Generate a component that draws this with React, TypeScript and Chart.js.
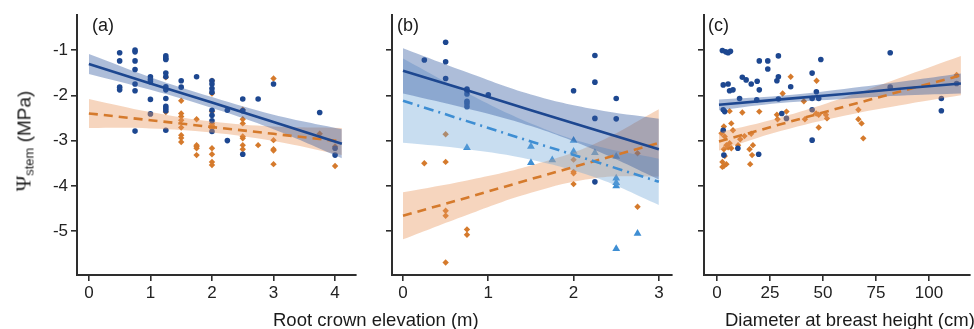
import React, { useEffect, useRef } from 'react';
import { Chart, registerables } from 'chart.js';

Chart.register(...registerables);

// ---------- tick labels / axis ranges ----------
const yTicks = [-1, -2, -3, -4, -5];
const xTicksA = [0, 1, 2, 3, 4];
const xTicksB = [0, 1, 2, 3];
const xTicksC = [0, 25, 50, 75, 100];
const yRange = [-5.967, -0.227];
const xRangeA = [-0.193, 4.34];
const xRangeB = [-0.129, 3.154];
const xRangeC = [-6.06, 119.3];

const yTitleMain = 'Ψ';
const yTitleSub = 'stem';
const yTitleUnit = ' (MPa)';
const xTitleAB = 'Root crown elevation (m)';
const xTitleC = 'Diameter at breast height (cm)';
const panelLabels = ['(a)', '(b)', '(c)'];

// ---------- panel (a) ----------
const aBlue: number[][] = [
  [0.5, -1.06], [0.5, -1.24], [0.5, -1.82], [0.5, -1.88],
  [0.75, -1.0], [0.75, -1.04], [0.75, -1.24], [0.75, -1.43], [0.75, -1.75], [0.75, -1.9], [0.75, -2.79],
  [1.0, -1.59], [1.0, -1.65], [1.0, -1.7], [1.0, -2.09], [1.0, -2.41],
  [1.25, -1.13], [1.25, -1.18], [1.25, -1.21], [1.25, -1.51], [1.25, -1.59], [1.25, -1.81], [1.25, -1.88],
  [1.25, -2.07], [1.25, -2.24], [1.25, -2.29], [1.25, -2.34], [1.25, -2.77],
  [1.5, -1.68], [1.5, -1.82], [1.75, -1.59],
  [2.0, -1.68], [2.0, -1.75], [2.0, -1.85], [2.0, -1.93], [2.0, -2.33], [2.0, -2.44], [2.0, -2.56], [2.0, -2.8],
  [2.25, -2.33], [2.25, -3.0], [2.5, -2.08], [2.5, -2.34], [2.5, -3.3], [2.75, -2.08],
  [3.0, -1.75], [3.75, -2.38], [4.0, -3.17], [4.0, -3.32],
];
const aOrange: number[][] = [
  [1.25, -1.6], [1.25, -2.37],
  [1.5, -2.12], [1.5, -2.4], [1.5, -2.47], [1.5, -2.55], [1.5, -2.71], [1.5, -2.88], [1.5, -2.94], [1.5, -3.03],
  [1.75, -2.53], [1.75, -3.1], [1.75, -3.13], [1.75, -3.17], [1.75, -3.32],
  [2.0, -1.68], [2.0, -1.96], [2.0, -2.36], [2.0, -2.62], [2.0, -2.66], [2.0, -2.69], [2.0, -2.73],
  [2.0, -3.17], [2.0, -3.3], [2.0, -3.47], [2.0, -3.54],
  [2.5, -2.32], [2.5, -2.53], [2.5, -2.62], [2.5, -2.91], [2.5, -2.95], [2.5, -3.1], [2.5, -3.19],
  [2.75, -3.1], [3.0, -1.63], [3.0, -2.99], [3.0, -3.19], [3.0, -3.22], [3.0, -3.52],
  [3.75, -2.85], [4.0, -3.13], [4.0, -3.56],
];
const aFitX = [0, 1, 2, 3, 4.11];
const aBlueFit = [-1.31, -1.74, -2.16, -2.59, -3.07];
const aBlueUp = [-1.09, -1.6, -2.04, -2.43, -2.75];
const aBlueLo = [-1.53, -1.88, -2.28, -2.75, -3.39];
const aOrangeFit = [-2.4, -2.55, -2.7, -2.85, -3.02];
const aOrangeUp = [-2.08, -2.37, -2.58, -2.69, -2.72];
const aOrangeLo = [-2.72, -2.73, -2.82, -3.01, -3.32];

// ---------- panel (b) ----------
const bBlue: number[][] = [
  [0.25, -1.22], [0.5, -0.83], [0.5, -1.26], [0.5, -1.63],
  [0.75, -1.86], [0.75, -1.9], [0.75, -1.97], [0.75, -2.13], [0.75, -2.18], [0.75, -2.25],
  [1.0, -1.99], [2.0, -1.9], [2.25, -1.12], [2.25, -1.71], [2.25, -2.51], [2.25, -3.91],
  [2.5, -2.07], [2.5, -2.52],
];
const bTri: number[][] = [
  [0.75, -3.16], [1.5, -3.13], [1.5, -3.49], [1.75, -3.43], [2.0, -3.0], [2.0, -3.24],
  [2.25, -3.27], [2.5, -3.35], [2.5, -3.83], [2.5, -3.93], [2.5, -4.0], [2.5, -5.39], [2.75, -5.05],
];
const bOrange: number[][] = [
  [0.25, -3.5], [0.5, -2.86], [0.5, -3.47], [0.5, -4.55], [0.5, -4.66], [0.5, -5.69],
  [0.75, -4.96], [0.75, -5.08], [2.0, -3.42], [2.0, -3.69], [2.0, -3.72], [2.0, -3.96],
  [2.75, -3.28], [2.75, -4.46],
];
const bFitX = [0, 0.75, 1.5, 2.25, 3];
const bBlueFit = [-1.46, -1.89, -2.33, -2.76, -3.19];
const bBlueUp = [-0.96, -1.49, -1.98, -2.31, -2.52];
const bBlueLo = [-1.96, -2.29, -2.68, -3.21, -3.86];
const bLightFit = [-2.12, -2.57, -3.02, -3.46, -3.91];
const bLightUp = [-1.19, -1.95, -2.62, -3.11, -3.4];
const bLightLo = [-3.05, -3.19, -3.42, -3.81, -4.42];
const bOrangeFit = [-4.66, -4.26, -3.85, -3.45, -3.05];
const bOrangeUp = [-4.14, -3.88, -3.55, -3.07, -2.31];
const bOrangeLo = [-5.18, -4.64, -4.15, -3.83, -3.79];

// ---------- panel (c) ----------
const cBlue: number[][] = [
  [2.6, -1.01], [4.2, -1.04], [5.3, -1.06], [6.4, -1.03], [20, -1.24], [24, -1.24], [24, -1.42],
  [29, -1.13], [49, -1.21], [81.7, -1.06], [12, -1.6], [13.8, -1.66], [16.2, -1.75], [19, -1.69],
  [20, -1.88], [28.3, -1.68], [29, -1.59], [34.8, -1.81], [44.9, -1.51], [46.9, -1.92], [48, -2.07],
  [44.9, -2.07], [3, -1.77], [5.3, -1.75], [6, -1.9], [7.6, -1.88], [10.7, -2.07], [18.8, -2.1],
  [29, -2.08], [3, -2.32], [3.7, -2.36], [3, -2.77], [3.3, -3.32], [19.7, -3.3], [9.9, -3.17],
  [30.6, -2.4], [32.8, -2.51], [44.9, -2.99], [44.9, -2.32], [105.8, -2.07], [105.8, -2.34],
  [81.7, -1.82], [113, -1.74],
];
const cOrange: number[][] = [
  [34.8, -1.59], [47, -1.68], [31, -1.96], [41, -2.13], [6, -2.35], [12, -2.38], [20, -2.36],
  [28.3, -2.43], [28.6, -2.53], [32.8, -2.36], [41.5, -2.53], [46.8, -2.4], [48, -2.43],
  [51.4, -2.43], [51.9, -2.51], [48, -2.71], [3.3, -2.69], [6.8, -2.62], [7.6, -2.77],
  [2.2, -2.84], [3.7, -2.91], [13, -2.9], [16.2, -2.85], [11, -2.97], [17, -3.1], [6, -3.06],
  [4.5, -3.1], [5.3, -3.15], [3.3, -3.19], [6.8, -3.17], [10, -3.1], [15.4, -3.19], [16.6, -3.32],
  [3.7, -3.34], [2.6, -3.47], [3.3, -3.56], [15.7, -3.52], [4.5, -3.52], [2.6, -3.58],
  [66.7, -2.32], [66.7, -2.53], [68.2, -2.62], [69, -2.95], [113, -1.55],
];
const cFitX = [1, 30, 60, 90, 115];
const cBlueFit = [-2.21, -2.09, -1.97, -1.84, -1.74];
const cBlueUp = [-2.09, -2.01, -1.86, -1.68, -1.52];
const cBlueLo = [-2.33, -2.17, -2.08, -2.0, -1.96];
const cOrangeFit = [-3.02, -2.64, -2.25, -1.87, -1.56];
const cOrangeUp = [-2.82, -2.49, -2.05, -1.55, -1.13];
const cOrangeLo = [-3.22, -2.79, -2.45, -2.19, -2.0];

// ---------- styles ----------
const FONT = "'Liberation Sans', Arial, Helvetica, sans-serif";
const NAVY = '#1d4790';
const ORANGE = '#d57a2c';
const LIGHT = '#3e8ed3';
const BAND_NAVY = 'rgba(50,90,160,0.40)';
const BAND_ORANGE = 'rgba(232,150,92,0.40)';
const BAND_LIGHT = 'rgba(110,165,215,0.38)';
const AXIS = '#2e2e2e';

const pts = (arr: number[][]) => arr.map(([x, y]) => ({ x, y }));
const xy = (xs: number[], ys: number[]) => xs.map((x, i) => ({ x, y: ys[i] }));

function pointSet(arr: number[][], color: string, style: string, radius: number) {
  return {
    data: pts(arr), showLine: false, pointStyle: style, pointRadius: radius,
    pointBackgroundColor: color, pointBorderColor: color, pointBorderWidth: 0, order: 3,
  };
}
function bandSets(xs: number[], up: number[], lo: number[], color: string) {
  return [
    { data: xy(xs, up), fill: '+1', backgroundColor: color, borderWidth: 0, pointRadius: 0, tension: 0.4, order: 2 },
    { data: xy(xs, lo), fill: false, borderWidth: 0, pointRadius: 0, tension: 0.4, order: 2 },
  ];
}
function fitSet(xs: number[], ys: number[], color: string, dash: number[]) {
  return {
    data: xy(xs, ys), borderColor: color, borderWidth: 2.6, borderDash: dash, pointRadius: 0,
    fill: false, tension: 0, order: 1,
  };
}

type PanelProps = {
  left: number; width: number; yW: number; padRight: number;
  xRange: number[]; xTicks: number[]; showY: boolean; datasets: any[];
};

function Panel({ left, width, yW, padRight, xRange, xTicks, showY, datasets }: PanelProps) {
  const ref = useRef<HTMLCanvasElement>(null);
  useEffect(() => {
    if (!ref.current) return;
    const grid = { display: true, drawOnChartArea: false, drawTicks: true, tickLength: 6, color: AXIS, lineWidth: 1.6 };
    const border = { display: true, color: AXIS, width: 2 };
    const chart = new Chart(ref.current, {
      type: 'line',
      data: { datasets },
      options: {
        animation: false,
        responsive: false,
        layout: { padding: { top: 15, right: padRight, left: 0, bottom: 0 } },
        plugins: { legend: { display: false }, tooltip: { enabled: false } },
        scales: {
          x: {
            type: 'linear', min: xRange[0], max: xRange[1],
            afterBuildTicks: (s: any) => { s.ticks = xTicks.map((v) => ({ value: v })); },
            afterFit: (s: any) => { s.height = 54; },
            grid, border,
            ticks: { font: { family: FONT, size: 17 }, color: '#222', padding: 2, maxRotation: 0, autoSkip: false, callback: (v: any) => String(v) },
          },
          y: {
            type: 'linear', min: yRange[0], max: yRange[1],
            afterBuildTicks: (s: any) => { s.ticks = yTicks.map((v) => ({ value: v })); },
            afterFit: (s: any) => { s.width = yW; },
            grid, border,
            ticks: { display: showY, font: { family: FONT, size: 17 }, color: '#222', padding: 3, callback: (v: any) => String(v) },
          },
        },
      } as any,
    });
    return () => chart.destroy();
  }, []);
  return (
    <canvas ref={ref} width={width} height={329}
      style={{ position: 'absolute', left, top: 0, width, height: 329 }} />
  );
}

const textBase: React.CSSProperties = {
  position: 'absolute', fontFamily: FONT, color: '#1a1a1a', whiteSpace: 'nowrap', lineHeight: 1,
};

export default function App() {
  const dsA = [
    fitSet(aFitX, aBlueFit, NAVY, []),
    fitSet(aFitX, aOrangeFit, ORANGE, [9, 6]),
    ...bandSets(aFitX, aBlueUp, aBlueLo, BAND_NAVY),
    ...bandSets(aFitX, aOrangeUp, aOrangeLo, BAND_ORANGE),
    pointSet(aBlue, NAVY, 'circle', 2.8),
    pointSet(aOrange, ORANGE, 'rectRot', 3.2),
  ];
  const dsB = [
    fitSet(bFitX, bBlueFit, NAVY, []),
    fitSet(bFitX, bLightFit, LIGHT, [10, 5, 2, 5]),
    fitSet(bFitX, bOrangeFit, ORANGE, [9, 6]),
    ...bandSets(bFitX, bBlueUp, bBlueLo, BAND_NAVY),
    ...bandSets(bFitX, bLightUp, bLightLo, BAND_LIGHT),
    ...bandSets(bFitX, bOrangeUp, bOrangeLo, BAND_ORANGE),
    pointSet(bBlue, NAVY, 'circle', 2.8),
    pointSet(bTri, LIGHT, 'triangle', 4.5),
    pointSet(bOrange, ORANGE, 'rectRot', 3.2),
  ];
  const dsC = [
    fitSet(cFitX, cBlueFit, NAVY, []),
    fitSet(cFitX, cOrangeFit, ORANGE, [9, 6]),
    ...bandSets(cFitX, cBlueUp, cBlueLo, BAND_NAVY),
    ...bandSets(cFitX, cOrangeUp, cOrangeLo, BAND_ORANGE),
    pointSet(cBlue, NAVY, 'circle', 2.8),
    pointSet(cOrange, ORANGE, 'rectRot', 3.2),
  ];
  return (
    <div style={{ position: 'fixed', left: 0, top: 0, width: 974, height: 329, background: '#fff', overflow: 'hidden' }}>
      <Panel left={0} width={360} yW={77} padRight={1} xRange={xRangeA} xTicks={xTicksA} showY={true} datasets={dsA} />
      <Panel left={360} width={320} yW={32} padRight={8} xRange={xRangeB} xTicks={xTicksB} showY={false} datasets={dsB} />
      <Panel left={680} width={294} yW={24} padRight={1} xRange={xRangeC} xTicks={xTicksC} showY={false} datasets={dsC} />
      <div style={{ ...textBase, left: 92, top: 16, fontSize: 18 }}>{panelLabels[0]}</div>
      <div style={{ ...textBase, left: 397, top: 16, fontSize: 18 }}>{panelLabels[1]}</div>
      <div style={{ ...textBase, left: 708, top: 16, fontSize: 18 }}>{panelLabels[2]}</div>
      <div style={{ ...textBase, left: 273, top: 310.5, fontSize: 18.5 }}>{xTitleAB}</div>
      <div style={{ ...textBase, left: 725, top: 310.5, fontSize: 18.5 }}>{xTitleC}</div>
      <div style={{ ...textBase, left: 24, top: 141, fontSize: 19, transform: 'translate(-50%, -50%) rotate(-90deg)' }}>
        <span style={{ fontFamily: "'Liberation Serif', 'DejaVu Serif', serif", fontSize: 21 }}>{yTitleMain}</span>
        <span style={{ fontSize: 13, position: 'relative', top: 3 }}>{yTitleSub}</span>
        <span>{yTitleUnit}</span>
      </div>
    </div>
  );
}
